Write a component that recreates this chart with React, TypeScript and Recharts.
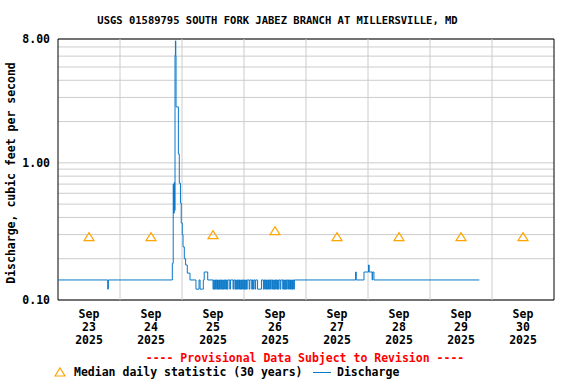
import {
  ComposedChart,
  Line,
  Scatter,
  XAxis,
  YAxis,
  CartesianGrid,
  ReferenceLine,
  ReferenceArea,
} from "recharts";

// Time axis is hours since Sep 23 2025 00:00 (local), one tick per day.
const DAY_HOURS = [0, 24, 48, 72, 96, 120, 144, 168, 192];
const LABEL_HOURS = [12, 36, 60, 84, 108, 132, 156, 180];
const LABEL_DAYS = ["23", "24", "25", "26", "27", "28", "29", "30"];
const LABEL_MONTH = "Sep";
const LABEL_YEAR = "2025";

// Log axis: labelled at 0.10, 1.00, 8.00 with minor grid lines in between.
const Y_TICKS = [0.1, 0.2, 0.3, 0.4, 0.5, 0.6, 0.7, 0.8, 0.9, 1, 2, 3, 4, 5, 6, 7, 8];
const Y_LABELLED = [0.1, 1, 8];

// Discharge (cfs) breakpoints, value holds until the next breakpoint.
const flowHours = [
  0, 44.25, 44.6, 44.75, 45.0, 45.15, 45.3, 45.45, 45.6, 45.7,
  46.6, 46.95, 47.4, 47.7, 48.1, 48.4, 48.9, 49.4, 50.05, 51.1,
  53.4, 54.6, 55.0, 56.25, 56.6, 57.95,
  77.25, 78.75,
  115.2, 115.45, 118.45, 120.2, 120.45, 121.6, 121.8, 122.3, 163.1,
];
const flowValues = [
  0.14, 0.185, 0.7, 0.43, 0.72, 0.45, 6.1, 7.75, 6.0, 2.56,
  1.16, 0.71, 0.51, 0.365, 0.3, 0.244, 0.2, 0.18, 0.157, 0.14,
  0.12, 0.14, 0.12, 0.14, 0.16, 0.14,
  0.12, 0.14,
  0.16, 0.14, 0.16, 0.18, 0.16, 0.14, 0.16, 0.14, 0.14,
];

// Single 15-minute readings where the gage dropped from 0.14 to 0.12 cfs.
const DIP_VALUE = 0.12;
const BASE_VALUE = 0.14;
const dipStarts = [
  19.25,
  60.0, 60.5, 61.0, 61.5, 62.0, 62.5, 63.0, 63.5, 64.0, 64.5, 65.0, 65.5,
  66.5, 67.75,
  68.5, 69.0, 69.5, 70.0, 70.5, 71.0, 71.5, 72.0, 72.5, 73.0,
  74.0, 75.0, 75.5, 76.25,
  79.5, 80.0, 80.5, 81.0, 81.5, 82.0, 82.75, 83.25, 83.75, 84.25, 84.75, 85.25, 86.0,
  87.0, 87.5, 88.0, 88.5, 89.25, 89.75, 90.25, 90.75, 91.25,
];

// Median daily statistic (30 years), one per day at noon.
const medianValues = [0.29, 0.29, 0.3, 0.32, 0.29, 0.29, 0.29, 0.29];

const flowData = [
  ...flowHours.map((t, i) => ({ t, q: flowValues[i] })),
  ...dipStarts.flatMap((t) => [
    { t, q: DIP_VALUE },
    { t: t + 0.25, q: BASE_VALUE },
  ]),
].sort((a, b) => a.t - b.t);

const medianData = LABEL_HOURS.map((t, i) => ({ t, m: medianValues[i] }));

const FONT = "'DejaVu Sans Mono', 'Liberation Mono', monospace";
const FLOW_COLOR = "#0a78c8";
const MEDIAN_COLOR = "#ffa500";
const GRID_COLOR = "#cccccc";

const Triangle = (props: any) => {
  const { cx, cy } = props;
  if (cx == null || cy == null) return null;
  return (
    <polygon
      points={`${cx - 5},${cy + 4} ${cx + 5},${cy + 4} ${cx},${cy - 4}`}
      fill="none"
      stroke={MEDIAN_COLOR}
      strokeWidth={1.2}
    />
  );
};

const DateTick = (props: any) => {
  const { x, y, index } = props;
  return (
    <text
      x={x}
      y={y}
      textAnchor="middle"
      fontFamily={FONT}
      fontWeight="bold"
      fontSize={11.5}
      fill="#000"
    >
      <tspan x={x} dy={18}>{LABEL_MONTH}</tspan>
      <tspan x={x} dy={13}>{LABEL_DAYS[index]}</tspan>
      <tspan x={x} dy={13}>{LABEL_YEAR}</tspan>
    </text>
  );
};

const textStyle: React.CSSProperties = {
  position: "absolute",
  fontFamily: FONT,
  fontWeight: "bold",
  fontSize: 11.5,
  lineHeight: 1,
  whiteSpace: "nowrap",
  color: "#000",
};

export default function App() {
  return (
    <div
      style={{
        position: "absolute",
        left: 0,
        top: 0,
        width: 576,
        height: 384,
        background: "#fff",
        overflow: "hidden",
      }}
    >
      <div
        style={{
          ...textStyle,
          fontSize: 10.5,
          left: 277.5,
          top: 20,
          transform: "translate(-50%, -50%)",
        }}
      >
        USGS 01589795 SOUTH FORK JABEZ BRANCH AT MILLERSVILLE, MD
      </div>
      <div
        style={{
          ...textStyle,
          left: 12,
          top: 173,
          transform: "translate(-50%, -50%) rotate(-90deg)",
        }}
      >
        Discharge, cubic feet per second
      </div>

      <ComposedChart
        width={576}
        height={384}
        margin={{ top: 39, right: 22, bottom: 34, left: 0 }}
        style={{ position: "absolute", left: 0, top: 0 }}
      >
        <CartesianGrid vertical={false} stroke={GRID_COLOR} strokeWidth={1} />
        {DAY_HOURS.slice(1, -1).map((h) => (
          <ReferenceLine key={h} x={h} stroke={GRID_COLOR} strokeWidth={1} />
        ))}
        <XAxis
          dataKey="t"
          type="number"
          domain={[0, 192]}
          ticks={LABEL_HOURS}
          tick={<DateTick />}
          tickLine={false}
          axisLine={false}
          tickSize={0}
          tickMargin={0}
          height={50}
          allowDataOverflow
        />
        <YAxis
          type="number"
          scale="log"
          domain={[0.1, 8]}
          ticks={Y_TICKS}
          tickFormatter={(v: number) =>
            Y_LABELLED.includes(v) ? v.toFixed(2) : ""
          }
          tick={{
            fontFamily: FONT,
            fontWeight: "bold",
            fontSize: 11.5,
            fill: "#000",
          }}
          tickLine={false}
          axisLine={false}
          tickSize={0}
          tickMargin={8}
          width={58}
          interval={0}
          allowDataOverflow
        />
        <Line
          data={flowData}
          dataKey="q"
          type="stepAfter"
          stroke={FLOW_COLOR}
          strokeWidth={1}
          dot={false}
          isAnimationActive={false}
        />
        <Scatter
          data={medianData}
          dataKey="m"
          shape={<Triangle />}
          isAnimationActive={false}
        />
        <ReferenceArea
          x1={0}
          x2={192}
          y1={0.1}
          y2={8}
          fill="none"
          stroke="#000"
          strokeWidth={1}
          ifOverflow="visible"
        />
      </ComposedChart>

      <div
        style={{
          ...textStyle,
          color: "#ff0000",
          left: 305,
          top: 359,
          transform: "translate(-50%, -50%)",
        }}
      >
        ---- Provisional Data Subject to Revision ----
      </div>
      <svg
        width={14}
        height={12}
        style={{ position: "absolute", left: 54, top: 366 }}
      >
        <polygon points="1,10 11,10 6,2" fill="none" stroke={MEDIAN_COLOR} strokeWidth={1.2} />
      </svg>
      <div style={{ ...textStyle, left: 74, top: 373, transform: "translateY(-50%)" }}>
        Median daily statistic (30 years)
      </div>
      <div
        style={{
          position: "absolute",
          left: 313,
          top: 372,
          width: 18,
          height: 1,
          background: FLOW_COLOR,
        }}
      />
      <div style={{ ...textStyle, left: 337, top: 373, transform: "translateY(-50%)" }}>
        Discharge
      </div>
    </div>
  );
}
